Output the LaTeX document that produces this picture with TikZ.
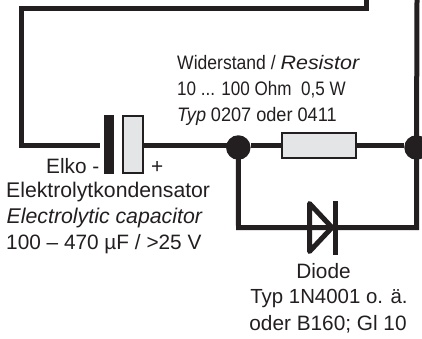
\documentclass[tikz,border=0pt]{standalone}
\usepackage{fontspec}
\setmainfont{Liberation Sans}
\newfontfamily\condfont[FakeStretch=0.9]{Liberation Sans}
\newfontfamily\narrowfont[FakeStretch=0.875]{Liberation Sans}
\newfontfamily\typfont[FakeStretch=0.93]{Liberation Sans}
\newfontfamily\condit[FakeStretch=0.93]{Liberation Sans Italic}
\newfontfamily\wideit[FakeStretch=1.1]{Liberation Sans Italic}
\definecolor{ink}{HTML}{231F20}
\definecolor{part}{HTML}{E4E5E6}
\tikzset{
  wire/.style={draw=ink,line width=5pt,line join=miter},
  dot/.style={circle,fill=ink,minimum size=24.5pt,inner sep=0pt},
  partbox/.style={rectangle,draw=ink,fill=part,line width=2pt,inner sep=0pt},
  plate/.style={rectangle,fill=ink,inner sep=0pt,minimum width=10pt,minimum height=59pt},
  lbl/.style={inner sep=0pt,text=ink,anchor=base west},
  lblc/.style={inner sep=0pt,text=ink,anchor=base},
  small/.style={font=\fontsize{19.5}{19.5}\condfont},
  big/.style={font=\fontsize{20.8}{20.8}\selectfont},
}
\begin{document}
\begin{tikzpicture}[x=1pt,y=-1pt]
\useasboundingbox (0,0) rectangle (422,338);
\fill[white] (0,0) rectangle (422,338);
% anchors
\coordinate (tr) at (366.5,0);
\coordinate (tc) at (366.5,8.5);
\coordinate (tl) at (21,8.5);
\coordinate (ml) at (21,145.5);
\coordinate (rt) at (417,0);
\coordinate (db) at (238.5,227.5);
\coordinate (rb) at (416.5,227.5);
\node[plate] (cp) at (108.7,144.5) {};
\coordinate (cw) at (100,145.5);
\node[partbox,minimum width=20pt,minimum height=57.5pt] (cb) at (132.5,144.5) {};
\node[dot] (j1) at (238.3,147.5) {};
\node[dot] (j2) at (416.5,147.5) {};
\node[partbox,minimum width=74pt,minimum height=25pt] (rs) at (318.8,145) {};
\coordinate (da) at (333,227.5);
\coordinate (dk) at (335.5,227.5);
% wires
\draw[wire] (tr) -- (tc) -- (tl) -- (ml) -- (cw);
\draw[wire] (cb.east |- cw) -- (j1.center |- cw);
\draw[wire] (j1.east |- rs.west) -- (rs.west);
\draw[wire] (rs.east) -- (j2.west |- rs.east);
\draw[wire] (rt) -- (j2.center);
\draw[wire] (j1.center) -- (db) -- (rb) -- (j2.center);
% diode
\draw[draw=ink,line width=5pt,line join=round] (309.5,203.5) -- (309.5,251.5) -- (332,227.5) -- cycle;
\draw[wire] (db) -- (da);
\draw[wire] (dk) ++(0,-26.5) -- ++(0,54);
% texts
\node[lbl,small] (t1) at (177,69) {Widerstand / {\wideit Resistor}};
\node[lbl,small] (t2) at (177,95) {\narrowfont 10 ... 100 Ohm\ \ 0,5 W};
\node[lbl,small] (t3) at (177,121) {{\condit Typ} {\typfont 0207 oder 0411}};
\node[lbl,big] (e1) at (46,173) {Elko -};
\node[lbl,big] (e5) at (151,173) {+};
\node[lbl,font=\fontsize{21.2}{21.2}\selectfont] (e2) at (6,197) {Elektrolytkondensator};
\node[lbl,font=\fontsize{21.3}{21.3}\selectfont] (e3) at (6.5,223) {\textit{Electrolytic capacitor}};
\node[lbl,big] (e4) at (6,249) {100 – 470 µF / >25 V};
\node[lblc,big] (d1) at (323.5,278) {Diode};
\node[lblc,font=\fontsize{20.4}{20.4}\selectfont] (d2) at (329,303) {Typ 1N4001 o. ä.};
\node[lblc,big] (d3) at (328,330) {oder B160; Gl 10};
\end{tikzpicture}
\end{document}
